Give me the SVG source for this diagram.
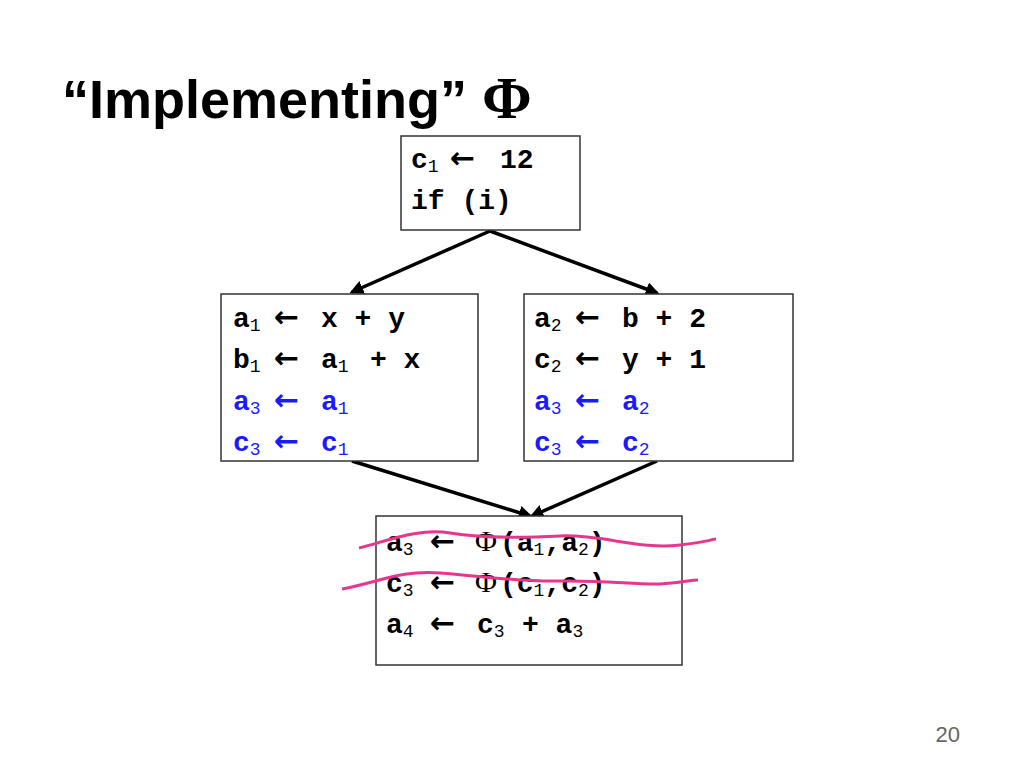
<svg xmlns="http://www.w3.org/2000/svg" width="1024" height="768" viewBox="0 0 1024 768">
<style>
.t{font-family:"Liberation Mono",monospace;font-weight:bold;font-size:28px;fill:#000}
.b{fill:#1a1aff}
.s{font-size:18px;font-weight:normal}
.ar{font-family:"DejaVu Sans",sans-serif;font-size:30px;font-weight:bold}
.ph{font-family:"Liberation Serif",serif;font-size:30px;font-weight:normal}
.box{fill:#fff;stroke:#333;stroke-width:1.5}
.e{stroke:#000;stroke-width:3.5;fill:none;marker-end:url(#ah)}
.strike{stroke:#e8368f;stroke-width:3;fill:none}
</style>
<defs><marker id="ah" viewBox="0 0 10 10" refX="8" refY="5" markerWidth="4" markerHeight="4" orient="auto"><path d="M0,0L10,5L0,10z" fill="#000"/></marker></defs>
<rect width="1024" height="768" fill="#fff"/>
<text x="62" y="118" font-family="Liberation Sans,Arial,sans-serif" font-weight="bold" font-size="54">“Implementing” <tspan font-family="Liberation Serif,serif" font-size="60">Φ</tspan></text>
<text x="960" y="742" font-family="Liberation Sans,sans-serif" font-size="22" fill="#666" text-anchor="end">20</text>
<g id="connectors">
<path class="e" d="M490,231L352,292"/>
<path class="e" d="M490,231L657,293"/>
<path class="e" d="M352,461L530,516"/>
<path class="e" d="M657,461L532,516"/>
</g>
<g id="n1"><rect class="box" x="401" y="136" width="179" height="94"/>
<text class="t" y="168"><tspan x="411">c</tspan><tspan class="s" dy="4">1</tspan><tspan class="ar" x="450" dy="-4">←</tspan><tspan x="500">12</tspan></text>
<text class="t" x="411" y="209">if (i)</text></g>
<g id="n2"><rect class="box" x="221" y="294" width="257" height="167"/>
<text class="t" y="327"><tspan x="233">a</tspan><tspan class="s" dy="4">1</tspan><tspan class="ar" x="274" dy="-4">←</tspan><tspan x="321">x + y</tspan></text>
<text class="t" y="368"><tspan x="233">b</tspan><tspan class="s" dy="4">1</tspan><tspan class="ar" x="274" dy="-4">←</tspan><tspan x="321">a</tspan><tspan class="s" dy="4">1</tspan><tspan x="370" dy="-4">+ x</tspan></text>
<text class="t b" y="410"><tspan x="233">a</tspan><tspan class="s" dy="4">3</tspan><tspan class="ar" x="274" dy="-4">←</tspan><tspan x="321">a</tspan><tspan class="s" dy="4">1</tspan></text>
<text class="t b" y="451"><tspan x="233">c</tspan><tspan class="s" dy="4">3</tspan><tspan class="ar" x="274" dy="-4">←</tspan><tspan x="321">c</tspan><tspan class="s" dy="4">1</tspan></text></g>
<g id="n3"><rect class="box" x="524" y="294" width="269" height="167"/>
<text class="t" y="327"><tspan x="534">a</tspan><tspan class="s" dy="4">2</tspan><tspan class="ar" x="575" dy="-4">←</tspan><tspan x="622">b + 2</tspan></text>
<text class="t" y="368"><tspan x="534">c</tspan><tspan class="s" dy="4">2</tspan><tspan class="ar" x="575" dy="-4">←</tspan><tspan x="622">y + 1</tspan></text>
<text class="t b" y="410"><tspan x="534">a</tspan><tspan class="s" dy="4">3</tspan><tspan class="ar" x="575" dy="-4">←</tspan><tspan x="622">a</tspan><tspan class="s" dy="4">2</tspan></text>
<text class="t b" y="451"><tspan x="534">c</tspan><tspan class="s" dy="4">3</tspan><tspan class="ar" x="575" dy="-4">←</tspan><tspan x="622">c</tspan><tspan class="s" dy="4">2</tspan></text></g>
<g id="n4"><rect class="box" x="376" y="516" width="306" height="149"/>
<text class="t" y="551"><tspan x="386">a</tspan><tspan class="s" dy="4">3</tspan><tspan class="ar" x="430" dy="-4">←</tspan><tspan class="ph" x="475">Φ</tspan><tspan x="500">(a</tspan><tspan class="s" dy="4">1</tspan><tspan dy="-4">,a</tspan><tspan class="s" dy="4">2</tspan><tspan dy="-4">)</tspan></text>
<text class="t" y="592"><tspan x="386">c</tspan><tspan class="s" dy="4">3</tspan><tspan class="ar" x="430" dy="-4">←</tspan><tspan class="ph" x="475">Φ</tspan><tspan x="500">(c</tspan><tspan class="s" dy="4">1</tspan><tspan dy="-4">,c</tspan><tspan class="s" dy="4">2</tspan><tspan dy="-4">)</tspan></text>
<text class="t" y="633"><tspan x="386">a</tspan><tspan class="s" dy="4">4</tspan><tspan class="ar" x="430" dy="-4">←</tspan><tspan x="477">c</tspan><tspan class="s" dy="4">3</tspan><tspan x="522" dy="-4">+ a</tspan><tspan class="s" dy="4">3</tspan></text>
<path class="strike" d="M359,548C390,540 420,528 450,533S520,538 560,536S640,550 680,545S710,539 716,539"/>
<path class="strike" d="M342,589C380,582 400,570 440,573S520,582 560,581S640,585 660,584S690,580 698,580"/>
</g>
</svg>
